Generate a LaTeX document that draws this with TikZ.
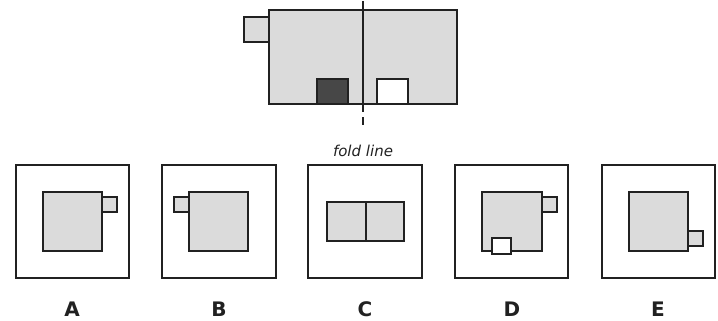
\documentclass[tikz,border=0pt]{standalone}
\usepackage{fontspec}
\setmainfont{DejaVu Sans}
\begin{document}
\begin{tikzpicture}[x=1pt,y=-1pt,
  ln/.style={draw=black!87, line width=2pt},
  grayfill/.style={ln, fill=black!14},
  darkfill/.style={ln, fill=black!72},
  whitefill/.style={ln, fill=white},
  lbl/.style={font=\bfseries\fontsize{20}{24}\selectfont, text=black!87, inner sep=0pt}]
\useasboundingbox (0,0) rectangle (718,321);
% top sheet
\draw[grayfill] (244,17.3) rectangle (269,42.3);
\draw[grayfill] (269,10) rectangle (456.7,103.7);
\draw[darkfill] (317.3,79) rectangle (348.3,103.7);
\draw[whitefill] (377,79) rectangle (408.3,103.7);
\coordinate (ftop) at (363,1);
\coordinate (fbot) at (363,112);
\coordinate (dtop) at (363,117);
\coordinate (dbot) at (363,125);
\draw[ln] (ftop) -- (fbot);
\draw[ln] (dtop) -- (dbot);
\node[font=\itshape\fontsize{15}{18}\selectfont, text=black!87, inner sep=0pt] (fold) at (363,151) {fold line};
% A
\draw[ln] (15.7,165) rectangle (129.3,278);
\draw[grayfill] (102,196.7) rectangle (117.3,212.3);
\draw[grayfill] (43,191.7) rectangle (102,251);
\node[lbl] (la) at (72,309) {A};
% B
\draw[ln] (162.3,165) rectangle (276,278);
\draw[grayfill] (174,196.7) rectangle (189.3,212.3);
\draw[grayfill] (189.3,191.7) rectangle (248.3,251);
\node[lbl] (lb) at (219,309) {B};
% C
\draw[ln] (308.3,165) rectangle (421.7,278);
\draw[grayfill] (326.7,201.7) rectangle (404,240.7);
\draw[ln] (365.7,201.7) -- (365.7,240.7);
\node[lbl] (lc) at (365,309) {C};
% D
\draw[ln] (455,165) rectangle (568.3,278);
\draw[grayfill] (541.7,196.7) rectangle (556.7,212.3);
\draw[grayfill] (481.7,191.7) rectangle (541.7,251.3);
\draw[whitefill] (491.7,238) rectangle (511,254.3);
\node[lbl] (ld) at (512,309) {D};
% E
\draw[ln] (601.7,165) rectangle (715,278);
\draw[grayfill] (688,230.7) rectangle (703.3,246);
\draw[grayfill] (629.3,191.7) rectangle (688,251);
\node[lbl] (le) at (658,309) {E};
\end{tikzpicture}
\end{document}
